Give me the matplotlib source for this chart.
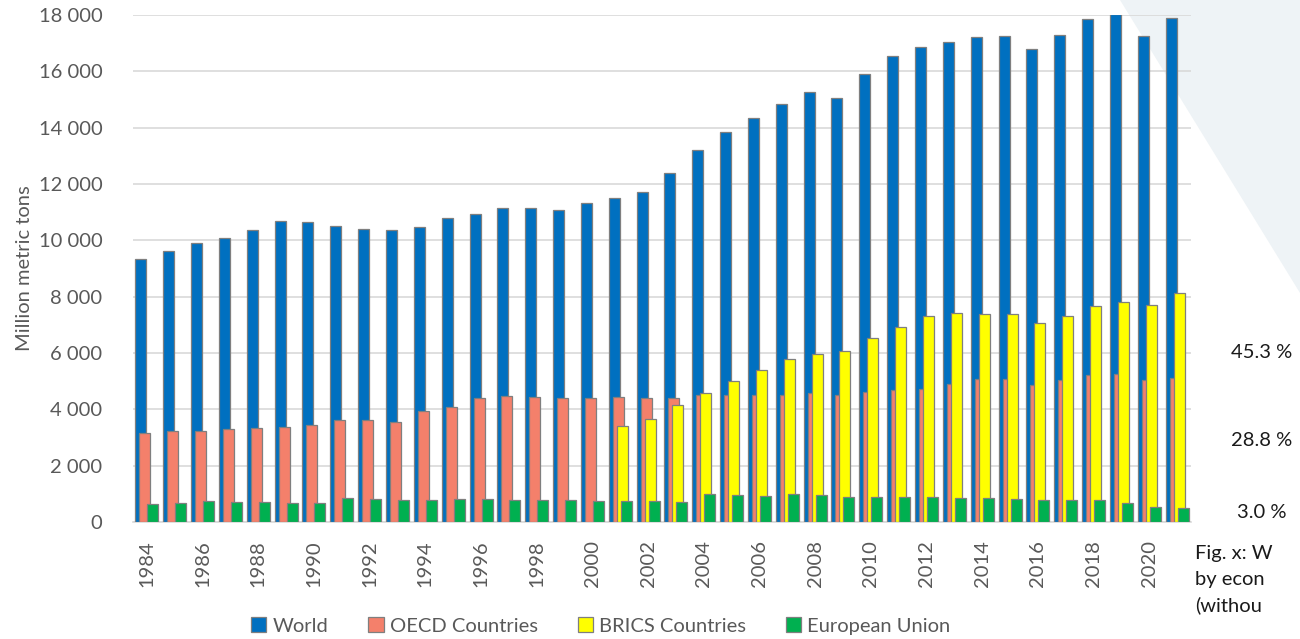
import numpy as np
import matplotlib.pyplot as plt
from matplotlib.patches import Polygon, Patch

years = list(range(1984, 2022))
world = [9340, 9620, 9900, 10080, 10370, 10690, 10650, 10510, 10400, 10370,
         10470, 10790, 10930, 11150, 11150, 11080, 11320, 11500, 11710, 12390,
         13210, 13840, 14340, 14840, 15260, 15050, 15890, 16540, 16850, 17030,
         17210, 17240, 16800, 17290, 17850, 18020, 17240, 17910]
oecd = [3160, 3240, 3230, 3300, 3330, 3380, 3430, 3620, 3610, 3540,
        3940, 4080, 4400, 4470, 4440, 4400, 4400, 4450, 4420, 4390,
        4510, 4510, 4510, 4510, 4580, 4510, 4610, 4690, 4720, 4900,
        5080, 5080, 4860, 5040, 5230, 5240, 5040, 5130]
brics = [np.nan] * 17 + [3410, 3660, 4140, 4580, 5010, 5410, 5780, 5980,
                         6070, 6530, 6920, 7310, 7420, 7380, 7380, 7060,
                         7310, 7670, 7810, 7700, 8130]
eu = [630, 690, 730, 720, 700, 690, 670, 860, 820, 770,
      780, 820, 820, 780, 780, 780, 750, 740, 750, 720,
      1000, 960, 920, 990, 960, 890, 890, 890, 890, 850,
      850, 820, 780, 780, 780, 670, 540, 490]

series = [("World", world, "#0070c0"),
          ("OECD Countries", oecd, "#f4806b"),
          ("BRICS Countries", brics, "#ffff00"),
          ("European Union", eu, "#00b050")]
shares = ["45.3 %", "28.8 %", "3.0 %"]

plt.rcParams['font.family'] = ['Lato', 'DejaVu Sans']
fig = plt.figure(figsize=(13, 6.39), dpi=100)

# light background wedge in the top right corner, behind the bars
fig.patches.append(Polygon([[1120 / 1300, 1], [1, 1], [1, 1 - 293 / 639]],
                           closed=True, transform=fig.transFigure,
                           facecolor="#eef3f6", edgecolor="none", zorder=0))

ax = fig.add_axes([133 / 1300, 1 - 522 / 639, (1191 - 133) / 1300, 507 / 639])
ax.set_zorder(2)
ax.patch.set_alpha(0)

x = np.arange(len(years))
width = 0.395
offsets = [-0.216, -0.072, 0.072, 0.216]
for i, (name, vals, col) in enumerate(series):
    ax.bar(x + offsets[i], vals, width, color=col, edgecolor="#7f7f7f",
           linewidth=0.9, zorder=3 + i, label=name)

ax.set_xlim(-0.5, len(years) - 0.5)
ax.set_ylim(0, 18000)
ax.set_yticks(range(0, 18001, 2000))
ax.set_yticklabels([f"{v:,}".replace(",", " ") for v in range(0, 18001, 2000)])
ax.set_xticks(x[::2])
ax.set_xticklabels([str(y) for y in years[::2]], rotation=90)
ax.tick_params(axis="both", length=0, labelsize=14.5, colors="#595959")
ax.tick_params(axis="x", pad=13)
ax.tick_params(axis="y", pad=22)
ax.grid(axis="y", color="#d9d9d9", linewidth=1.2, zorder=0)
ax.set_axisbelow(True)
for s in ["top", "right", "left"]:
    ax.spines[s].set_visible(False)
ax.spines["bottom"].set_color("#d9d9d9")
ax.spines["bottom"].set_linewidth(1.2)
ax.set_ylabel("Million metric tons", fontsize=14.5, color="#595959", labelpad=4)

handles = [Patch(facecolor=c, edgecolor="#7f7f7f", linewidth=0.9, label=n)
           for n, _, c in series]
fig.legend(handles=handles, loc="center", bbox_to_anchor=(601 / 1300, 1 - 626 / 639),
           ncol=4, frameon=False, fontsize=14.5, labelcolor="#595959",
           handlelength=0.75, handleheight=0.75, handletextpad=0.3, columnspacing=2.0)

for txt, yp in zip(shares, [353, 441, 512]):
    fig.text(1262 / 1300, 1 - yp / 639, txt, ha="center", va="center",
             fontsize=14.5, color="#1a1a1a")
for txt, yp in zip(["Fig. x: W", "by econ", "(withou"], [553, 579, 605]):
    fig.text(1195 / 1300, 1 - yp / 639, txt, ha="left", va="center",
             fontsize=14.5, color="#1a1a1a")

fig.savefig("out.png", dpi=100)
